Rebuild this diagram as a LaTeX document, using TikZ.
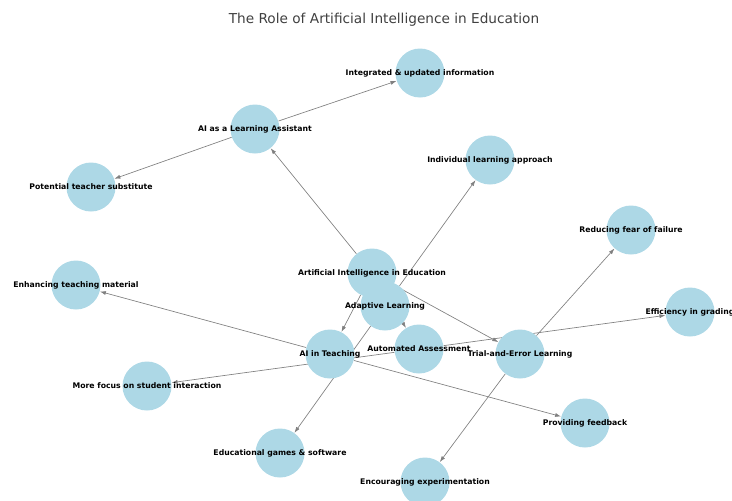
\documentclass[tikz,border=0pt]{standalone}
\usepackage{fontspec}
\setmainfont{DejaVu Sans}
\usepackage{tikz}
\usetikzlibrary{backgrounds}
\usetikzlibrary{arrows.meta}
\definecolor{lightblue}{HTML}{ADD8E6}

\begin{document}
\begin{tikzpicture}[x=0.75pt,y=-0.75pt,
  topic/.style={circle,fill=lightblue,minimum size=36.75pt,inner sep=0pt},
  tag/.style={font=\bfseries\fontsize{5.8}{6}\selectfont,inner sep=0pt},
  link/.style={-{Latex[length=4.5pt,width=3pt]},draw=gray,line width=0.5pt}]
\useasboundingbox (0,0) rectangle (732,500);
\node[font=\fontsize{10.25}{12}\selectfont,text=black!75] (title) at (384,20) {The Role of Artificial Intelligence in Education};
% circles
\node[topic] (aie) at (372,273) {};
\node[topic] (al) at (385,306) {};
\node[topic] (at) at (330,354) {};
\node[topic] (aa) at (419,349) {};
\node[topic] (te) at (520,354) {};
\node[topic] (la) at (255,129) {};
\node[topic] (iu) at (420,73) {};
\node[topic] (pt) at (91,187) {};
\node[topic] (il) at (490,160) {};
\node[topic] (rf) at (631,230) {};
\node[topic] (eg) at (690,312) {};
\node[topic] (etm) at (76,285) {};
\node[topic] (mf) at (147,386) {};
\node[topic] (egs) at (280,453) {};
\node[topic] (ee) at (425,482) {};
\node[topic] (pf) at (585,423) {};
% edges
\begin{scope}[on background layer]
\foreach \a/\b in {aie/la,aie/al,aie/at,aie/aa,aie/te,la/iu,la/pt,al/il,al/egs,
  at/etm,at/pf,aa/eg,aa/mf,te/rf,te/ee}
  \draw[link] (\a) -- (\b);
\end{scope}
% labels
\foreach \n/\t in {aie/Artificial Intelligence in Education,al/Adaptive Learning,
  at/AI in Teaching,aa/Automated Assessment,te/Trial-and-Error Learning,
  la/AI as a Learning Assistant,iu/Integrated \& updated information,
  pt/Potential teacher substitute,il/Individual learning approach,
  rf/Reducing fear of failure,eg/Efficiency in grading,etm/Enhancing teaching material,
  mf/More focus on student interaction,egs/Educational games \& software,
  ee/Encouraging experimentation,pf/Providing feedback}
  \node[tag] at (\n) {\t};
\end{tikzpicture}
\end{document}
